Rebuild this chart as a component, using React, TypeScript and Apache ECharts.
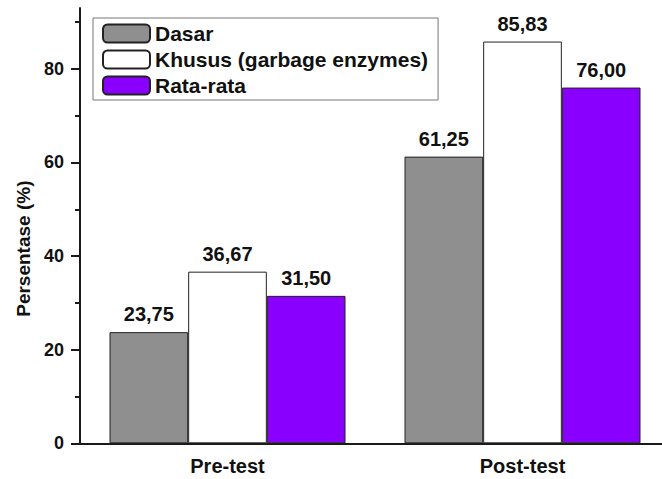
import React, { useEffect, useRef } from "react";
import * as echarts from "echarts";

const categories = ["Pre-test", "Post-test"];
const seriesNames = ["Dasar", "Khusus (garbage enzymes)", "Rata-rata"];
const dasar = [23.75, 61.25];
const khusus = [36.67, 85.83];
const rataRata = [31.5, 76.0];
const majorTicks = [0, 20, 40, 60, 80];
const minorTicks = [10, 30, 50, 70, 90];
const yTitle = "Persentase (%)";

const FONT = "'Liberation Sans', Arial, sans-serif";
const colors = ["#8f8f8f", "#ffffff", "#8a00ff"];

export default function App() {
  const ref = useRef<HTMLDivElement>(null);
  useEffect(() => {
    if (!ref.current) return;
    const chart = echarts.init(ref.current, undefined, { renderer: "svg" });
    const values = [dasar, khusus, rataRata];
    const axisColor = "#1a1a1a";
    const tickLabel = { fontFamily: FONT, fontWeight: "bold", fontSize: 18, color: "#111" };
    chart.setOption({
      animation: false,
      backgroundColor: "#ffffff",
      grid: { left: 80, top: 8, width: 590, height: 435.3, outerBoundsMode: "none", containLabel: false },
      legend: {
        orient: "vertical",
        left: 93,
        top: 18,
        padding: [5, 10, 4, 9],
        itemWidth: 47,
        itemHeight: 18,
        itemGap: 5,
        borderColor: "#777",
        borderWidth: 1,
        backgroundColor: "#fff",
        textStyle: { fontFamily: FONT, fontWeight: "bold", fontSize: 21, color: "#111" },
        data: seriesNames,
      },
      xAxis: [
        {
          type: "category",
          data: categories,
          axisLine: { lineStyle: { color: axisColor, width: 2 } },
          axisTick: { alignWithLabel: true, length: 8, lineStyle: { color: axisColor, width: 2 } },
          axisLabel: { ...tickLabel, fontSize: 20, margin: 13 },
        },
        {
          type: "category",
          data: categories,
          position: "bottom",
          axisLine: { show: false },
          axisTick: { length: 5, lineStyle: { color: axisColor, width: 2 } },
          axisLabel: { show: false },
        },
      ],
      yAxis: [
        {
          type: "value",
          min: 0,
          max: 93,
          splitLine: { show: false },
          axisLine: { show: true, lineStyle: { color: axisColor, width: 2 } },
          axisTick: { show: true, length: 9, customValues: majorTicks, lineStyle: { color: axisColor, width: 2 } },
          axisLabel: { ...tickLabel, margin: 16, customValues: majorTicks },
          name: yTitle,
          nameLocation: "middle",
          nameGap: 47,
          nameTextStyle: { fontFamily: FONT, fontWeight: "bold", fontSize: 19, color: "#111", padding: [0, 46, 0, 0] },
        },
        {
          type: "value",
          min: 0,
          max: 93,
          position: "left",
          splitLine: { show: false },
          axisLine: { show: false },
          axisTick: { show: true, length: 5, customValues: minorTicks, lineStyle: { color: axisColor, width: 2 } },
          axisLabel: { show: false },
        },
      ],
      series: seriesNames.map((name, i) => ({
        name,
        type: "bar",
        xAxisIndex: 0,
        yAxisIndex: 0,
        data: values[i],
        barGap: "0%",
        barCategoryGap: "20%",
        itemStyle: { color: colors[i], borderColor: "#222", borderWidth: 1 },
        label: {
          show: true,
          position: "top",
          distance: 8,
          fontFamily: FONT,
          fontWeight: "bold",
          fontSize: 20,
          color: "#111",
          formatter: (p: any) => Number(p.value).toFixed(2).replace(".", ","),
        },
      })),
    });
    return () => chart.dispose();
  }, []);
  return (
    <div
      ref={ref}
      style={{ position: "fixed", left: 0, top: 0, width: 662, height: 479, background: "#fff" }}
    />
  );
}
